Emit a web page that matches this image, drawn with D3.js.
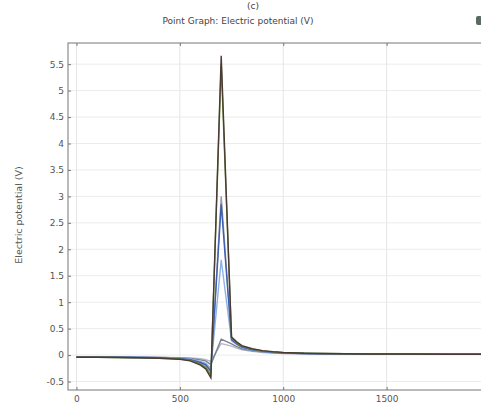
<!DOCTYPE html>
<html><head><meta charset="utf-8">
<script src="https://cdn.jsdelivr.net/npm/d3@7"></script>
<style>body{margin:0;background:#fff;overflow:hidden}svg{display:block}</style>
</head><body>
<svg id="c" width="481" height="403"></svg>
<script>
const xValues = [0,100,200,300,400,450,500,550,600,625,650,700,750,775,800,850,900,950,1000,1100,1200,1400,1600,1800,2000];
const s1 = [-0.04,-0.04,-0.045,-0.05,-0.06,-0.07,-0.08,-0.11,-0.19,-0.26,-0.43,5.66,0.34,0.25,0.18,0.12,0.085,0.065,0.05,0.035,0.03,0.02,0.02,0.015,0.015];
const s2 = [-0.04,-0.04,-0.045,-0.05,-0.06,-0.065,-0.075,-0.1,-0.17,-0.23,-0.38,5.5,0.32,0.23,0.17,0.11,0.08,0.06,0.045,0.035,0.03,0.02,0.02,0.015,0.015];
const s3 = [-0.04,-0.04,-0.04,-0.045,-0.055,-0.06,-0.07,-0.09,-0.15,-0.2,-0.33,3.0,0.3,0.22,0.16,0.1,0.075,0.055,0.045,0.03,0.025,0.02,0.015,0.015,0.015];
const s4 = [-0.04,-0.04,-0.04,-0.045,-0.05,-0.06,-0.065,-0.085,-0.14,-0.18,-0.3,2.85,0.29,0.21,0.15,0.1,0.07,0.055,0.04,0.03,0.025,0.02,0.015,0.015,0.015];
const s5 = [-0.035,-0.035,-0.04,-0.04,-0.05,-0.055,-0.06,-0.075,-0.12,-0.15,-0.25,1.8,0.27,0.2,0.14,0.09,0.065,0.05,0.04,0.03,0.025,0.02,0.015,0.015,0.015];
const s6 = [-0.035,-0.035,-0.035,-0.04,-0.045,-0.05,-0.055,-0.065,-0.09,-0.11,-0.18,0.3,0.21,0.16,0.12,0.08,0.06,0.045,0.035,0.03,0.02,0.02,0.015,0.015,0.015];
const s7 = [-0.03,-0.03,-0.035,-0.035,-0.04,-0.045,-0.05,-0.055,-0.07,-0.085,-0.12,0.22,0.17,0.13,0.1,0.07,0.05,0.04,0.03,0.025,0.02,0.015,0.015,0.015,0.015];
const seriesNames = ["s1","s2","s3","s4","s5","s6","s7"];
const seriesData = [s1,s2,s3,s4,s5,s6,s7];
const seriesColors = ["#4a3a34","#6f8a3a","#9a9aac","#3e5fb0","#8fb2e6","#7a8290","#b8b6c8"];
const xTicks = [0,500,1000,1500];
const yTicks = [-0.5,0,0.5,1,1.5,2,2.5,3,3.5,4,4.5,5,5.5];

const svg = d3.select("#c");
const L=68, T=43, B=390, R=490;
const x = d3.scaleLinear().domain([-41,2000]).range([L,R]);
const y = d3.scaleLinear().domain([-0.66,5.9]).range([B,T]);
const font = "'DejaVu Sans', sans-serif";

// title and caption
svg.append("text").attr("x",253).attr("y",9).attr("text-anchor","middle").attr("font-family",font).attr("font-size",9).attr("fill","#444").text("(c)");
svg.append("text").attr("x",238).attr("y",24).attr("text-anchor","middle").attr("font-family",font).attr("font-size",9).attr("fill","#444").text("Point Graph: Electric potential (V)");
svg.append("rect").attr("x",476).attr("y",16).attr("width",6).attr("height",9).attr("rx",2).attr("fill","#5a6a60");

// grid
const g = svg.append("g");
g.selectAll(".gy").data(yTicks).join("line").attr("x1",L).attr("x2",R).attr("y1",d=>y(d)).attr("y2",d=>y(d)).attr("stroke","#ececec").attr("stroke-width",1);
g.selectAll(".gx").data(xTicks).join("line").attr("y1",T).attr("y2",B).attr("x1",d=>x(d)).attr("x2",d=>x(d)).attr("stroke","#e6e6e6").attr("stroke-width",1);

// lines
const line = d3.line().x((d,i)=>x(xValues[i])).y(d=>y(d));
const order = [6,5,2,4,3,1,0];
order.forEach(k=>{
  svg.append("path").datum(seriesData[k]).attr("d",line).attr("fill","none").attr("stroke",seriesColors[k]).attr("stroke-width",1.4).attr("stroke-linejoin","miter");
});

// frame
svg.append("rect").attr("x",L).attr("y",T).attr("width",R-L).attr("height",B-T).attr("fill","none").attr("stroke","#777").attr("stroke-width",1);

// axes
const axL = d3.axisLeft(y).tickValues(yTicks).tickSize(-3).tickPadding(4).tickFormat(d=>d===-0.5?"-0.5":d3.format("")(d));
const gL = svg.append("g").attr("transform",`translate(${L},0)`).call(axL);
const axB = d3.axisBottom(x).tickValues(xTicks).tickSize(-3).tickPadding(6).tickFormat(d3.format("d"));
const gB = svg.append("g").attr("transform",`translate(0,${B})`).call(axB);
const axT = d3.axisTop(x).tickValues(xTicks).tickSize(-3).tickFormat("");
const gT = svg.append("g").attr("transform",`translate(0,${T})`).call(axT);
[gL,gB,gT].forEach(a=>{
  a.select(".domain").remove();
  a.selectAll("line").attr("stroke","#777");
  a.selectAll("text").attr("font-family",font).attr("font-size",9).attr("fill","#555");
});

// y label
svg.append("text").attr("transform","translate(22,215) rotate(-90)").attr("text-anchor","middle").attr("font-family",font).attr("font-size",9.5).attr("fill","#555").text("Electric potential (V)");
</script>
</body></html>
